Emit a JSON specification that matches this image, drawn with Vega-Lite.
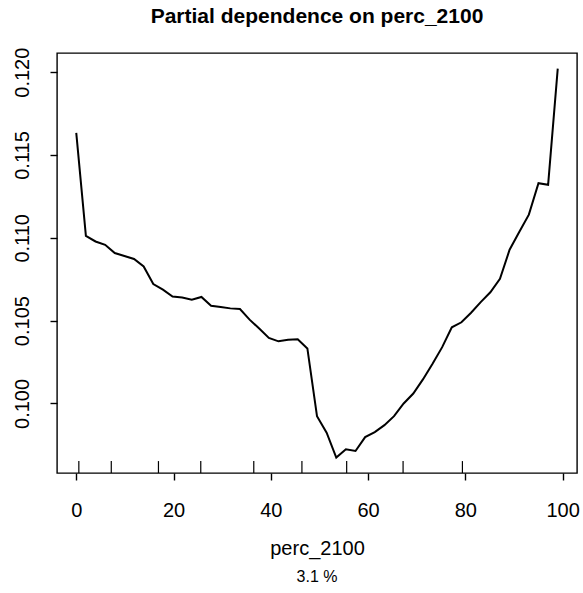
{
  "$schema": "https://vega.github.io/schema/vega-lite/v6.json",
  "width": 520,
  "height": 420,
  "autosize": {"type": "none"},
  "padding": {"left": 57, "top": 53, "right": 6, "bottom": 120},
  "background": "white",
  "config": {
    "view": {"stroke": "black", "strokeWidth": 1.4},
    "font": "Liberation Sans"
  },
  "title": {
    "text": "Partial dependence on perc_2100",
    "fontSize": 21,
    "fontWeight": "bold",
    "font": "Liberation Sans",
    "anchor": "middle",
    "frame": "group",
    "baseline": "alphabetic",
    "offset": 3,
    "color": "black"
  },
  "datasets": {
    "pd": [
      {"perc_2100": 0, "pd": 0.11634},
      {"perc_2100": 1.98, "pd": 0.11012},
      {"perc_2100": 3.96, "pd": 0.10978},
      {"perc_2100": 5.94, "pd": 0.10958},
      {"perc_2100": 7.92, "pd": 0.10908},
      {"perc_2100": 9.9, "pd": 0.1089},
      {"perc_2100": 11.88, "pd": 0.10872},
      {"perc_2100": 13.86, "pd": 0.10827},
      {"perc_2100": 15.84, "pd": 0.10721},
      {"perc_2100": 17.82, "pd": 0.10687},
      {"perc_2100": 19.8, "pd": 0.10646},
      {"perc_2100": 21.78, "pd": 0.1064},
      {"perc_2100": 23.76, "pd": 0.10627},
      {"perc_2100": 25.74, "pd": 0.10643},
      {"perc_2100": 27.72, "pd": 0.1059},
      {"perc_2100": 29.7, "pd": 0.10583},
      {"perc_2100": 31.68, "pd": 0.10574},
      {"perc_2100": 33.66, "pd": 0.1057},
      {"perc_2100": 35.64, "pd": 0.10506},
      {"perc_2100": 37.62, "pd": 0.10452},
      {"perc_2100": 39.6, "pd": 0.10396},
      {"perc_2100": 41.58, "pd": 0.10375},
      {"perc_2100": 43.56, "pd": 0.10384},
      {"perc_2100": 45.54, "pd": 0.10388},
      {"perc_2100": 47.52, "pd": 0.10332},
      {"perc_2100": 49.5, "pd": 0.09923},
      {"perc_2100": 51.48, "pd": 0.09823},
      {"perc_2100": 53.46, "pd": 0.09673},
      {"perc_2100": 55.44, "pd": 0.09723},
      {"perc_2100": 57.42, "pd": 0.09713},
      {"perc_2100": 59.4, "pd": 0.09797},
      {"perc_2100": 61.38, "pd": 0.09827},
      {"perc_2100": 63.36, "pd": 0.09869},
      {"perc_2100": 65.34, "pd": 0.09923},
      {"perc_2100": 67.32, "pd": 0.1},
      {"perc_2100": 69.3, "pd": 0.1006},
      {"perc_2100": 71.28, "pd": 0.10145},
      {"perc_2100": 73.26, "pd": 0.1024},
      {"perc_2100": 75.24, "pd": 0.1034},
      {"perc_2100": 77.22, "pd": 0.1046},
      {"perc_2100": 79.2, "pd": 0.1049},
      {"perc_2100": 81.18, "pd": 0.10548},
      {"perc_2100": 83.16, "pd": 0.10612},
      {"perc_2100": 85.14, "pd": 0.10671},
      {"perc_2100": 87.12, "pd": 0.10752},
      {"perc_2100": 89.1, "pd": 0.10928},
      {"perc_2100": 91.08, "pd": 0.11035},
      {"perc_2100": 93.06, "pd": 0.1114},
      {"perc_2100": 95.04, "pd": 0.1133},
      {"perc_2100": 97.02, "pd": 0.1132},
      {"perc_2100": 99, "pd": 0.12022}
    ],
    "rug": [
      {"perc_2100": 0.53},
      {"perc_2100": 7.2},
      {"perc_2100": 16.9},
      {"perc_2100": 25.6},
      {"perc_2100": 36.5},
      {"perc_2100": 46.4},
      {"perc_2100": 55.6},
      {"perc_2100": 67.2},
      {"perc_2100": 79.4}
    ],
    "sub": [{"label": "3.1 %"}]
  },
  "layer": [
    {
      "data": {"name": "pd"},
      "mark": {"type": "line", "color": "black", "strokeWidth": 2},
      "encoding": {
        "x": {
          "field": "perc_2100",
          "type": "quantitative",
          "scale": {"domain": [-3.96, 102.96], "nice": false, "zero": false},
          "axis": {
            "values": [0, 20, 40, 60, 80, 100],
            "domain": false,
            "grid": false,
            "ticks": true,
            "tickSize": 7,
            "tickColor": "black",
            "tickWidth": 1.4,
            "labelFontSize": 20,
            "labelFont": "Liberation Sans",
            "labelColor": "black",
            "labelPadding": 20,
            "labelFlush": false,
            "title": "perc_2100",
            "titleFont": "Liberation Sans",
            "titleFontSize": 20,
            "titleFontWeight": "normal",
            "titleColor": "black",
            "titlePadding": 18
          }
        },
        "y": {
          "field": "pd",
          "type": "quantitative",
          "scale": {"domain": [0.0958, 0.12116], "nice": false, "zero": false},
          "axis": {
            "values": [0.1, 0.105, 0.11, 0.115, 0.12],
            "format": ".3f",
            "domain": false,
            "grid": false,
            "ticks": true,
            "tickSize": 7,
            "tickColor": "black",
            "tickWidth": 1.4,
            "labelAngle": -90,
            "labelAlign": "center",
            "labelBaseline": "alphabetic",
            "labelFontSize": 20,
            "labelFont": "Liberation Sans",
            "labelColor": "black",
            "labelPadding": 22,
            "labelFlush": false,
            "title": null
          }
        }
      }
    },
    {
      "data": {"name": "rug"},
      "mark": {"type": "rule", "color": "black", "strokeWidth": 1.2},
      "encoding": {
        "x": {"field": "perc_2100", "type": "quantitative"},
        "y": {"datum": 0.0958, "type": "quantitative"},
        "y2": {"datum": 0.09652}
      }
    },
    {
      "data": {"name": "sub"},
      "mark": {"type": "text", "fontSize": 16, "font": "Liberation Sans", "color": "black", "baseline": "alphabetic", "align": "center"},
      "encoding": {
        "text": {"field": "label"},
        "x": {"datum": 49.5, "type": "quantitative"},
        "y": {"datum": 0.0892, "type": "quantitative"}
      }
    }
  ]
}
